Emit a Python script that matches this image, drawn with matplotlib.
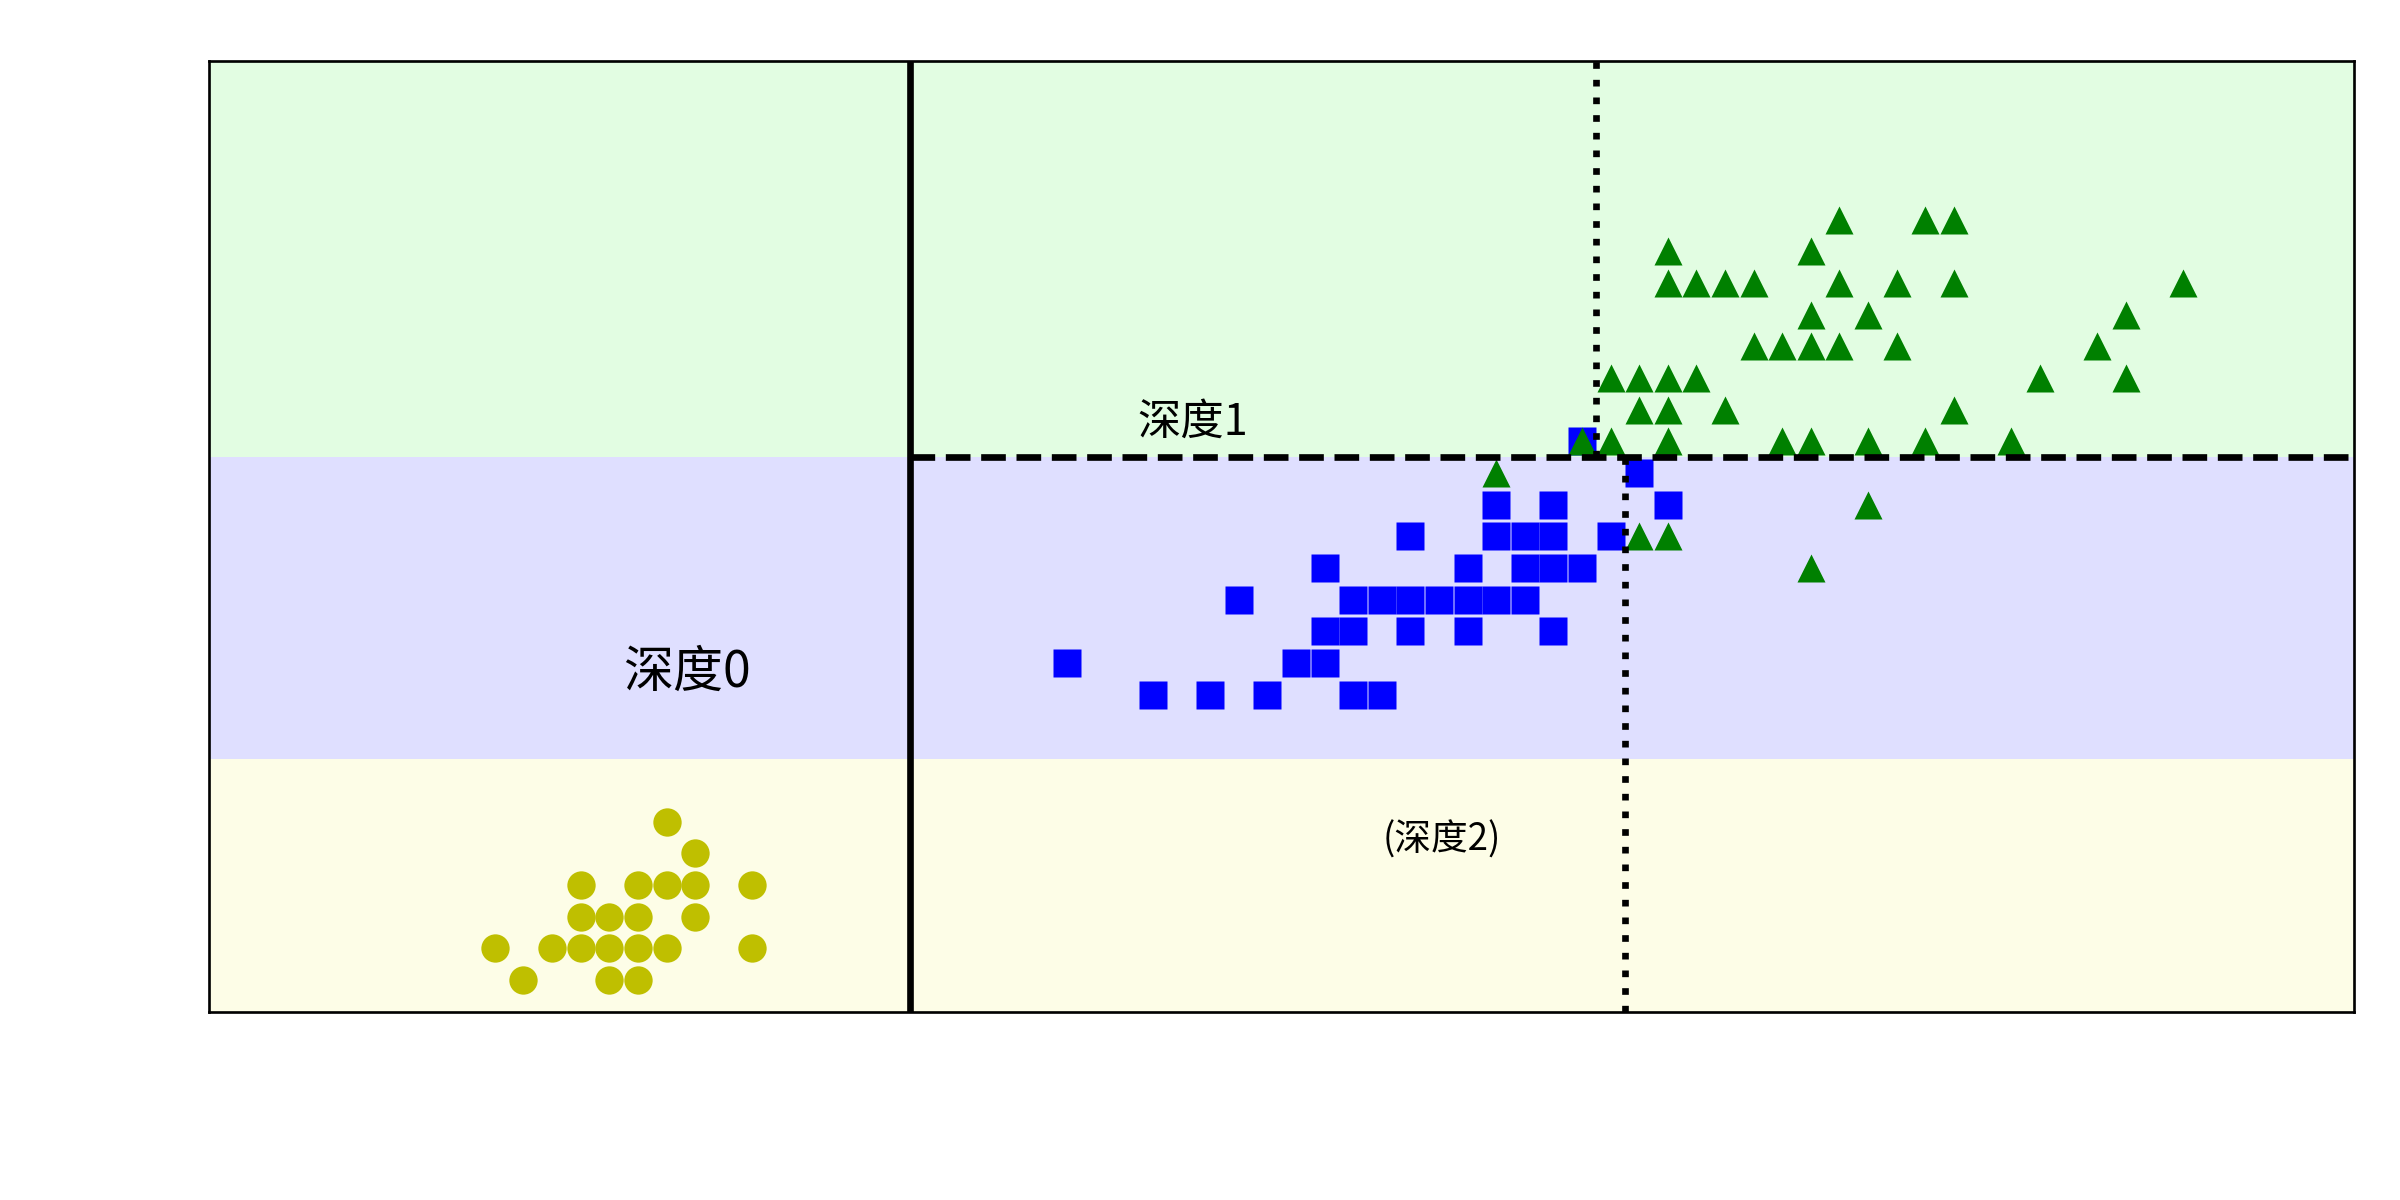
import matplotlib
matplotlib.use("Agg")
import matplotlib.pyplot as plt
import numpy as np
from matplotlib.colors import ListedColormap

plt.rcParams['font.family'] = ['Noto Sans CJK SC', 'DejaVu Sans']

setosa_x = [1.6,1.7,1.3,1.5,1.6,1.7,1.9,1.3,1.4,1.5,1.7,1.0,1.2,1.3,1.4,1.5,1.6,1.9,1.1,1.4,1.5]
setosa_y = [0.6,0.5,0.4,0.4,0.4,0.4,0.4,0.3,0.3,0.3,0.3,0.2,0.2,0.2,0.2,0.2,0.2,0.2,0.1,0.1,0.1]

versi_x = [3.0,3.8,3.9, 3.3,3.5,3.7,4.0,4.1, 3.9,4.0,4.2,4.4,4.7,
           3.6,4.0,4.1,4.2,4.3,4.4,4.5,4.6, 3.9,4.4,4.6,4.7,4.8,
           4.2,4.5,4.6,4.7,4.9, 4.5,4.7,5.1, 5.0, 4.8]
versi_y = [1.1,1.1,1.1, 1.0,1.0,1.0,1.0,1.0, 1.2,1.2,1.2,1.2,1.2,
           1.3,1.3,1.3,1.3,1.3,1.3,1.3,1.3, 1.4,1.4,1.4,1.4,1.4,
           1.5,1.5,1.5,1.5,1.5, 1.6,1.6,1.6, 1.7, 1.8]

virg_x = [5.7,6.0,6.1, 5.1,5.6, 5.1,5.2,5.3,5.4,5.7,5.9,6.1,6.9, 5.6,5.8,6.7,
          5.4,5.5,5.6,5.7,5.9,6.6, 4.9,5.0,5.1,5.2,6.4,6.7, 5.0,5.1,5.3,6.1,
          4.8,4.9,5.1,5.5,5.6,5.8,6.0,6.3, 4.5, 5.8, 5.0,5.1, 5.6]
virg_y = [2.5,2.5,2.5, 2.4,2.4, 2.3,2.3,2.3,2.3,2.3,2.3,2.3,2.3, 2.2,2.2,2.2,
          2.1,2.1,2.1,2.1,2.1,2.1, 2.0,2.0,2.0,2.0,2.0,2.0, 1.9,1.9,1.9,1.9,
          1.8,1.8,1.8,1.8,1.8,1.8,1.8,1.8, 1.7, 1.6, 1.5,1.5, 1.4]

x_split0 = 2.45
y_split1 = 1.75
band_lo = 0.8
x_split2a = 4.95
x_split2b = 4.85

fig = plt.figure(figsize=(10, 5), dpi=240)
ax = fig.add_axes([0.087, 0.157, 0.894, 0.792])

xs = np.linspace(0, 7.5, 300)
ys = np.linspace(0, 3, 300)
X, Y = np.meshgrid(xs, ys)
Z = np.where(Y < band_lo, 0, np.where(Y < y_split1, 1, 2))
cmap = ListedColormap(['#fafab0', '#9898ff', '#a0faa0'])
ax.contourf(X, Y, Z, levels=[-0.5, 0.5, 1.5, 2.5], cmap=cmap, alpha=0.3)

ms = 8.5
ax.plot(setosa_x, setosa_y, 'o', color='#bfbf00', ms=ms, mec='none')
ax.plot(versi_x, versi_y, 's', color='blue', ms=ms, mec='none')
ax.plot(virg_x, virg_y, '^', color='green', ms=ms, mec='none')

ax.plot([x_split0, x_split0], [0, 3], 'k-', lw=2)
ax.plot([x_split0, 7.5], [y_split1, y_split1], 'k--', lw=2)
ax.plot([x_split2a, x_split2a], [0, y_split1], 'k:', lw=2)
ax.plot([x_split2b, x_split2b], [y_split1, 3], 'k:', lw=2)

ax.text(1.67, 1.07, '深度0', fontsize=15, ha='center', va='center')
ax.text(3.44, 1.86, '深度1', fontsize=13, ha='center', va='center')
ax.text(4.31, 0.54, '(深度2)', fontsize=11, ha='center', va='center')

ax.set_xlim(0, 7.5)
ax.set_ylim(0, 3)
ax.set_xticks([])
ax.set_yticks([])
fig.savefig('out.png', dpi=240)
